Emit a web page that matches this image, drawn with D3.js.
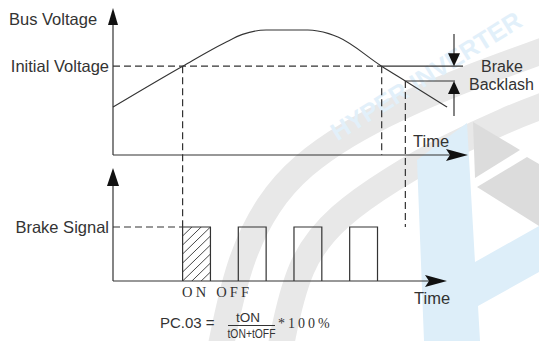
<!DOCTYPE html>
<html>
<head>
<meta charset="utf-8">
<script src="https://cdnjs.cloudflare.com/ajax/libs/d3/7.8.5/d3.min.js"></script>
<style>
  body { margin: 0; background: #fff; }
  text { font-family: "Liberation Sans", Arial, sans-serif; fill: #333; }
  .serif { font-family: "Liberation Serif", "Times New Roman", serif; }
</style>
</head>
<body>
<script>
// bus voltage curve (time units, voltage %)
var voltageTime  = [0, 5, 8, 9.3, 11, 14, 15.5, 16.2, 19.3, 21, 24];
var voltageValue = [32.4, 60, 75.7, 81.5, 84.5, 84.5, 82, 79.5, 60, 50, 32.4];
var initialVoltage = 60;
var backlashVoltage = 50;
// events on the time axis
var brakeOnTime = 5, crossDownTime = 19.3, brakeOffTime = 21;
// brake signal pulses
var pulseStart = [5, 9, 13, 17];
var pulseWidth = 2;
var signalLevel = 1;
// labels
var busLabels = ["Bus Voltage", "Initial Voltage", "Time"];
var signalLabels = ["Brake Signal", "Time"];
var backlashLabels = ["Brake", "Backlash"];

var W = 539, H = 341;
var ink = "#333";

var svg = d3.select("body").append("svg")
  .attr("width", W)
  .attr("height", H);

svg.append("rect").attr("width", W).attr("height", H).attr("fill", "#fff");

// scales
var x = d3.scaleLinear().domain([0, 25.5]).range([113, 468]);
var yV = d3.scaleLinear().domain([0, 100]).range([155, 7]);
var yS = d3.scaleLinear().domain([0, 1]).range([281, 227]);

//--- watermark (drawn first, behind everything)
var wm = svg.append("g").attr("class", "watermark");
var swoosh = d3.line().curve(d3.curveBasis);
wm.append("path")
  .attr("d", swoosh([[220,350],[238,262],[268,202],[302,165],[347,134],[397,108],[462,80],[545,50]]))
  .attr("fill", "none").attr("stroke", "#e8e8e8").attr("stroke-width", 26);
wm.append("path")
  .attr("d", swoosh([[280,350],[298,262],[338,215],[393,178],[445,148],[510,118],[545,105]]))
  .attr("fill", "none").attr("stroke", "#e8e8e8").attr("stroke-width", 26);
wm.append("polygon")
  .attr("points", [[417,160],[467,123],[475,262],[539,226],[539,272],[478,306],[480,341],[424,341]].join(" "))
  .attr("fill", "#ddeef9");
wm.append("polygon")
  .attr("points", [[473,122],[520,150],[475,178]].join(" "))
  .attr("fill", "#dcdcdc");
wm.append("polygon")
  .attr("points", [[477,187],[527,157],[539,164],[539,226]].join(" "))
  .attr("fill", "#dcdcdc");
wm.append("text")
  .attr("transform", "translate(426,76) rotate(-32)")
  .attr("text-anchor", "middle")
  .attr("dy", "0.35em")
  .style("font-size", "25px")
  .style("font-weight", "bold")
  .style("fill", "#e2f0fa")
  .text("HYPER INVERTER");

//--- helpers
function vArrow(g, xp, tipY, baseY, half) {
  g.append("path")
    .attr("d", "M" + xp + "," + tipY + "L" + (xp - half) + "," + baseY + "L" + (xp + half) + "," + baseY + "Z")
    .attr("fill", "#111");
}
function hArrow(g, tipX, yp) {
  g.append("path")
    .attr("d", "M" + (tipX - 22) + "," + (yp - 6) + "L" + tipX + "," + yp + "L" + (tipX - 22) + "," + (yp + 6) + "L" + (tipX - 18) + "," + yp + "Z")
    .attr("fill", "#111");
}
function seg(g, x1, y1, x2, y2, dash) {
  return g.append("line")
    .attr("x1", x1).attr("y1", y1).attr("x2", x2).attr("y2", y2)
    .attr("stroke", ink).attr("stroke-width", 1.2)
    .attr("stroke-dasharray", dash ? "7,4" : null);
}

var g = svg.append("g");

//--- top chart : bus voltage
seg(g, x(0), yV(0), x(0), 20);
vArrow(g, x(0), 8, 25, 5);
seg(g, x(0), yV(0), 464, yV(0));
hArrow(g, 468, yV(0));

// initial voltage level: dashed until voltage falls back, then solid reference
seg(g, x(0), yV(initialVoltage), x(crossDownTime), yV(initialVoltage), true);
seg(g, x(crossDownTime), yV(initialVoltage), 463, yV(initialVoltage));
seg(g, x(brakeOffTime), yV(backlashVoltage), 455, yV(backlashVoltage));

// vertical dashed markers
seg(g, x(brakeOnTime), yV(initialVoltage), x(brakeOnTime), yS(signalLevel), true);
seg(g, x(crossDownTime), yV(initialVoltage), x(crossDownTime), yV(0), true);
seg(g, x(brakeOffTime), yV(backlashVoltage), x(brakeOffTime), yS(signalLevel), true);

// voltage curve
var vLine = d3.line()
  .x(function(d, i) { return x(voltageTime[i]); })
  .y(function(d) { return yV(d); })
  .curve(d3.curveMonotoneX);
g.append("path")
  .datum(voltageValue)
  .attr("d", vLine)
  .attr("fill", "none")
  .attr("stroke", ink)
  .attr("stroke-width", 1.1);

// backlash arrows
var bx = 454;
seg(g, bx, 34, bx, yV(initialVoltage) - 2);
vArrow(g, bx, yV(initialVoltage), yV(initialVoltage) - 13, 6);
seg(g, bx, 116, bx, yV(backlashVoltage) + 2);
vArrow(g, bx, yV(backlashVoltage), yV(backlashVoltage) + 13, 6);

g.append("text").attr("x", 9).attr("y", 25).style("font-size", "16.5px").text(busLabels[0]);
g.append("text").attr("x", 109).attr("y", yV(initialVoltage) + 5.5).attr("text-anchor", "end")
  .style("font-size", "16.5px").text(busLabels[1]);
g.append("text").attr("x", 413).attr("y", 147).style("font-size", "16.5px").text(busLabels[2]);
g.append("text").attr("x", 481).attr("y", 72).style("font-size", "16px").text(backlashLabels[0]);
g.append("text").attr("x", 469).attr("y", 90).style("font-size", "16px").text(backlashLabels[1]);

//--- bottom chart : brake signal
seg(g, x(0), yS(0), x(0), 180);
vArrow(g, x(0), 168, 186, 6);
seg(g, x(0), yS(0), 442, yS(0));
hArrow(g, 447, yS(0));

seg(g, x(0), yS(signalLevel), x(pulseStart[0]), yS(signalLevel), true);

// hatching for the first (ON) pulse
var clip = svg.append("clipPath").attr("id", "onclip");
clip.append("rect")
  .attr("x", x(pulseStart[0])).attr("y", yS(signalLevel))
  .attr("width", x(pulseStart[0] + pulseWidth) - x(pulseStart[0]))
  .attr("height", yS(0) - yS(signalLevel));
var hatch = g.append("g").attr("clip-path", "url(#onclip)");
d3.range(-6, 8).forEach(function(k) {
  var y0 = yS(0) - k * 9;
  hatch.append("line")
    .attr("x1", x(pulseStart[0])).attr("y1", y0)
    .attr("x2", x(pulseStart[0] + pulseWidth)).attr("y2", y0 - 27)
    .attr("stroke", ink).attr("stroke-width", 0.9);
});

// pulses
var pulse = d3.line().x(function(d) { return x(d[0]); }).y(function(d) { return yS(d[1]); });
g.selectAll("path.pulse")
  .data(pulseStart)
  .enter()
  .append("path")
  .attr("class", "pulse")
  .attr("d", function(d) {
    return pulse([[d, 0], [d, signalLevel], [d + pulseWidth, signalLevel], [d + pulseWidth, 0]]);
  })
  .attr("fill", "none")
  .attr("stroke", ink)
  .attr("stroke-width", 1.2);

g.append("text").attr("x", 109).attr("y", yS(signalLevel) + 5.5).attr("text-anchor", "end")
  .style("font-size", "16.5px").text(signalLabels[0]);
g.append("text").attr("x", 414).attr("y", 304).style("font-size", "16.5px").text(signalLabels[1]);

g.append("text").attr("class", "serif").attr("x", 182).attr("y", 297)
  .style("font-size", "14.5px").style("letter-spacing", "3.2px").text("ON OFF");

// duty formula
g.append("text").attr("x", 160).attr("y", 328).style("font-size", "15px").text("PC.03 =");
g.append("text").attr("x", 248).attr("y", 322).attr("text-anchor", "middle").style("font-size", "13.5px").text("tON");
seg(g, 228, 325.5, 275, 325.5).attr("stroke-width", 1);
g.append("text").attr("x", 251.5).attr("y", 337.5).attr("text-anchor", "middle").style("font-size", "13px")
  .attr("textLength", 48).attr("lengthAdjust", "spacingAndGlyphs").text("tON+tOFF");
g.append("text").attr("class", "serif").attr("x", 278).attr("y", 328)
  .style("font-size", "14px").style("letter-spacing", "3px").text("*100%");
</script>
</body>
</html>
